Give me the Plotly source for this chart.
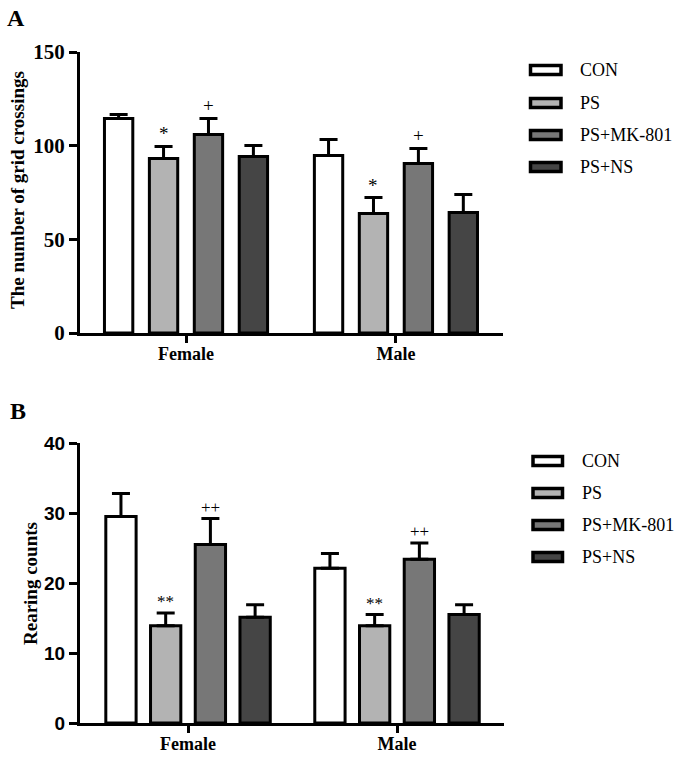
import plotly.graph_objects as go

W, H = 683, 757

# ---------------- data ----------------
groups = ["Female", "Male"]
series = ["CON", "PS", "PS+MK-801", "PS+NS"]
colors = ["#ffffff", "#b3b3b3", "#777777", "#454545"]

# Panel A: number of grid crossings (mean, SEM) for Female, Male
cross_con = [114.5, 94.8]
cross_ps = [93.2, 63.8]
cross_mk = [106.0, 90.5]
cross_ns = [94.2, 64.3]
cross_con_err = [2.2, 8.5]
cross_ps_err = [6.4, 8.5]
cross_mk_err = [8.5, 8.0]
cross_ns_err = [5.9, 9.6]
cross_marks = ["", "*", "+", ""]

# Panel B: rearing counts (mean, SEM)
rear_con = [29.5, 22.1]
rear_ps = [13.9, 13.9]
rear_mk = [25.5, 23.4]
rear_ns = [15.1, 15.5]
rear_con_err = [3.3, 2.1]
rear_ps_err = [1.8, 1.6]
rear_mk_err = [3.7, 2.3]
rear_ns_err = [1.8, 1.4]
rear_marks = ["", "**", "++", ""]

cross_means = [cross_con, cross_ps, cross_mk, cross_ns]
cross_errs = [cross_con_err, cross_ps_err, cross_mk_err, cross_ns_err]
rear_means = [rear_con, rear_ps, rear_mk, rear_ns]
rear_errs = [rear_con_err, rear_ps_err, rear_mk_err, rear_ns_err]

# ---------------- layout helpers ----------------
def px(x):
    return x / W

def py(y):
    return 1 - y / H

SERIF = "Liberation Serif"
SANS = "Liberation Sans"
pitch = 0.214

fig = go.Figure()
annotations = []
shapes = []

panels = [
    dict(means=cross_means, errs=cross_errs, marks=cross_marks, xa="x", ya="y",
         width=0.135, msize=19),
    dict(means=rear_means, errs=rear_errs, marks=rear_marks, xa="x2", ya="y2",
         width=0.145, msize=17),
]

gx = list(range(len(groups)))
for p in panels:
    for i, name in enumerate(series):
        k = (i - (len(series) - 1) / 2) * pitch
        fig.add_trace(go.Bar(
            x=gx, y=p["means"][i], name=name,
            offset=k - p["width"] / 2, width=p["width"],
            marker=dict(color=colors[i], line=dict(color="black", width=3)),
            error_y=dict(type="data", symmetric=False, array=p["errs"][i],
                         arrayminus=[0] * len(groups), color="black",
                         thickness=3, width=9),
            xaxis=p["xa"], yaxis=p["ya"], showlegend=False,
        ))
        if p["marks"][i]:
            for g in gx:
                annotations.append(dict(
                    x=g + k, y=p["means"][i][g] + p["errs"][i][g],
                    xref=p["xa"], yref=p["ya"], text=p["marks"][i],
                    showarrow=False, xanchor="center", yanchor="bottom", yshift=0,
                    font=dict(family=SERIF, size=p["msize"], color="black"),
                ))

# custom legends
legend_rows = [
    dict(ys=[70, 103, 135, 167], x0=530.5, x1=561, tx=578),
    dict(ys=[461, 493, 525, 557], x0=533, x1=562.5, tx=580),
]
for lg in legend_rows:
    for i, name in enumerate(series):
        yc = lg["ys"][i]
        shapes.append(dict(type="rect", xref="paper", yref="paper",
                           x0=px(lg["x0"]), x1=px(lg["x1"]),
                           y0=py(yc + 4.5), y1=py(yc - 4.5),
                           fillcolor=colors[i], line=dict(color="black", width=3.5)))
        annotations.append(dict(x=px(lg["tx"]), y=py(yc), xref="paper", yref="paper",
                                text=name, showarrow=False, xanchor="left",
                                yanchor="middle",
                                font=dict(family=SERIF, size=18, color="black")))

# panel labels and y titles
annotations += [
    dict(x=px(16), y=py(18), xref="paper", yref="paper", text="<b>A</b>",
         showarrow=False, xanchor="center", yanchor="middle",
         font=dict(family=SERIF, size=24, color="black")),
    dict(x=px(18), y=py(411), xref="paper", yref="paper", text="<b>B</b>",
         showarrow=False, xanchor="center", yanchor="middle",
         font=dict(family=SERIF, size=24, color="black")),
    dict(x=px(17), y=py(190), xref="paper", yref="paper",
         text="<b>The number of grid crossings</b>", textangle=-90,
         showarrow=False, xanchor="center", yanchor="middle",
         font=dict(family=SERIF, size=19, color="black")),
    dict(x=px(30), y=py(584), xref="paper", yref="paper",
         text="<b>Rearing counts</b>", textangle=-90,
         showarrow=False, xanchor="center", yanchor="middle",
         font=dict(family=SERIF, size=19, color="black")),
]

common_x = dict(tickvals=gx, ticktext=groups, ticks="outside", ticklen=7,
                tickwidth=3, tickcolor="black", showline=True, linewidth=3,
                linecolor="black", showgrid=False, zeroline=False, automargin=False,
                ticklabelstandoff=-5,
                tickfont=dict(family=SERIF, size=18, color="black", weight="bold"))
common_y = dict(ticks="outside", ticklen=8, tickwidth=3, tickcolor="black",
                showline=True, linewidth=3, linecolor="black", showgrid=False,
                zeroline=False, automargin=False)

fig.update_layout(
    width=W, height=H, autosize=False,
    margin=dict(l=0, r=0, t=0, b=0, pad=0, autoexpand=False),
    paper_bgcolor="white", plot_bgcolor="white",
    barmode="overlay", showlegend=False,
    xaxis=dict(domain=[px(80), px(503)], range=[-0.505, 1.51], anchor="y", **common_x),
    yaxis=dict(domain=[py(333), py(52)], range=[0, 150], tickvals=[0, 50, 100, 150],
               anchor="x",
               tickfont=dict(family=SERIF, size=21, color="black", weight="bold"),
               **common_y),
    xaxis2=dict(domain=[px(80), px(504)], range=[-0.517, 1.512], anchor="y2", **common_x),
    yaxis2=dict(domain=[py(723), py(443)], range=[0, 40], tickvals=[0, 10, 20, 30, 40],
                anchor="x2",
                tickfont=dict(family=SANS, size=19, color="black", weight="bold"),
                **common_y),
    annotations=annotations, shapes=shapes,
)

fig.write_html(
    "out.html",
    config={"displayModeBar": False},
    post_script="document.body.style.margin='0';document.body.style.overflow='hidden';",
)
